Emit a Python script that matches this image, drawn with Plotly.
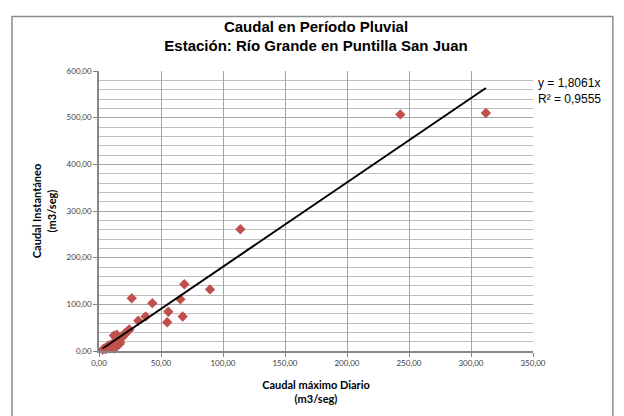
import plotly.graph_objects as go

# Data: Caudal máximo diario (x) vs Caudal instantáneo (y), m3/seg
caudal_max_diario = [3, 4, 5, 5.5, 6, 7, 7.5, 8, 9, 9.5, 10, 11, 11.5, 12, 12.5, 13, 13.5, 14,
                     14.5, 15, 15.5, 16, 16.5, 17, 18, 19, 20, 21, 22, 23, 24, 12, 14.3,
                     24.5, 26.4, 31.7, 37.6, 43, 55, 55.9, 65.6, 67.5, 68.8, 89.5, 114, 243, 312]
caudal_instantaneo = [3, 5, 6, 4, 8, 10, 7, 12, 11, 6, 14, 13, 9, 17, 5, 19, 16, 22,
                      12, 20, 24, 26, 15, 18, 28, 30, 34, 38, 40, 42, 45, 33, 35,
                      46, 113, 65, 74, 102.5, 61.6, 84, 111, 74, 143, 132, 261, 507, 510]

slope = 1.8061
r2 = 0.9555
x_ticks = [0, 50, 100, 150, 200, 250, 300, 350]
y_ticks = [0, 100, 200, 300, 400, 500, 600]

x_line = [min(caudal_max_diario), max(caudal_max_diario)]
y_line = [slope * v for v in x_line]

fig = go.Figure()
fig.add_trace(go.Scatter(
    x=caudal_max_diario, y=caudal_instantaneo, mode="markers",
    marker=dict(symbol="diamond", size=8, color="#C0504D", line=dict(width=0)),
    showlegend=False, cliponaxis=False))
fig.add_trace(go.Scatter(
    x=x_line, y=y_line, mode="lines", line=dict(color="black", width=2),
    showlegend=False))

tickfont = dict(family="Lato", size=8, color="#404040")
fig.update_layout(
    width=624, height=416,
    margin=dict(l=99, r=91, t=71, b=62),
    paper_bgcolor="white", plot_bgcolor="white",
    separators=",.",
    title=dict(text="<b>Caudal en Período Pluvial<br>Estación: Río Grande en Puntilla San Juan</b>",
               font=dict(family="Liberation Sans", size=15, color="black"),
               x=0.5, xref="paper", xanchor="center", y=0.924, yanchor="middle"),
    xaxis=dict(range=[0, 350], tickvals=x_ticks, tickformat=".2f", tickfont=tickfont,
               showgrid=True, gridcolor="#A6A6A6", gridwidth=1,
               showline=True, linecolor="#868686", linewidth=1.5,
               ticks="outside", ticklen=4, tickcolor="#868686", zeroline=False,
               title=dict(text="<b>Caudal máximo Diario<br>(m3/seg)</b>",
                          font=dict(family="Lato", size=11, color="black"), standoff=14)),
    yaxis=dict(range=[0, 600], tickvals=y_ticks, tickformat=".2f", tickfont=tickfont,
               showgrid=True, gridcolor="#A6A6A6", gridwidth=1,
               minor=dict(dtick=20, showgrid=True, gridcolor="#BFBFBF", gridwidth=1),
               showline=True, linecolor="#868686", linewidth=1.5,
               ticks="outside", ticklen=4, tickcolor="#868686", zeroline=False,
               title=dict(text="<b>Caudal Instantáneo<br>(m3/seg)</b>",
                          font=dict(family="Lato", size=11, color="black"), standoff=8)),
    shapes=[dict(type="rect", xref="paper", yref="paper",
                 x0=-0.2005, x1=1.184, y0=-0.35, y1=1.195,
                 line=dict(color="#8C8C8C", width=1.5), fillcolor="rgba(0,0,0,0)", layer="above")],
    annotations=[dict(text="y = 1,8061x<br>R² = 0,9555", xref="paper", yref="paper",
                      x=1.008, y=0.93, xanchor="left", yanchor="middle", align="left",
                      showarrow=False, font=dict(family="Liberation Sans", size=12, color="black"))],
)

fig.write_html("out.html")
